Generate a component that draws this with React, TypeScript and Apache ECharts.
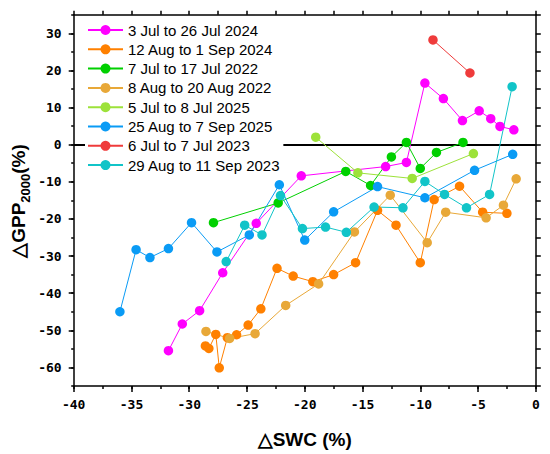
import React, { useEffect, useRef } from "react";
import * as echarts from "echarts";

const seriesNames = [
  "3 Jul to 26 Jul 2024",
  "12 Aug to 1 Sep 2024",
  "7 Jul to 17 Jul 2022",
  "8 Aug to 20 Aug 2022",
  "5 Jul to 8 Jul 2025",
  "25 Aug to 7 Sep 2025",
  "6 Jul to 7 Jul 2023",
  "29 Aug to 11 Sep 2023",
];

const seriesColors = ["#ff00ff", "#ff8000", "#00d000", "#e8a838", "#9de23a", "#0a9bf5", "#ef3b3b", "#11c4c8"];

// [ΔSWC (%), ΔGPP2000 (%)]
const jul2024 = [
  [-31.8, -55.5], [-30.6, -48.3], [-29.1, -44.7], [-27.1, -34.5], [-24.2, -21.2], [-20.3, -8.4],
  [-13.0, -5.9], [-11.2, -4.8], [-9.6, 16.6], [-8.0, 12.4], [-6.35, 6.5], [-4.9, 9.1],
  [-3.9, 7.0], [-3.1, 4.9], [-1.9, 4.0],
];
const aug2024 = [
  [-28.6, -54.2], [-28.3, -54.9], [-27.7, -51.1], [-27.4, -60.1], [-26.7, -52.0], [-25.9, -51.2],
  [-24.9, -48.6], [-23.8, -44.2], [-22.4, -33.3], [-21.0, -35.4], [-19.3, -36.9], [-17.5, -35.0],
  [-15.6, -31.8], [-13.7, -17.7], [-12.1, -21.7], [-10.0, -31.8], [-8.8, -14.8], [-6.6, -11.2],
  [-4.6, -18.2], [-2.5, -18.5],
];
const jul2022 = [
  [-27.9, -21.0], [-22.3, -15.7], [-16.45, -7.2], [-14.3, -11.0], [-12.5, -3.3], [-11.2, 0.6],
  [-10.0, -6.4], [-8.6, -2.1], [-6.3, 0.6],
];
const aug2022 = [
  [-28.55, -50.3], [-26.5, -52.2], [-24.3, -50.9], [-21.65, -43.3], [-18.8, -37.5], [-15.7, -23.5],
  [-12.6, -13.6], [-9.4, -26.4], [-7.8, -18.2], [-4.3, -19.7], [-2.8, -16.3], [-1.7, -9.2],
];
const jul2025 = [[-19.05, 2.0], [-15.4, -7.6], [-10.7, -9.1], [-5.4, -2.4]];
const aug2025 = [
  [-36.0, -45.0], [-34.6, -28.3], [-33.4, -30.4], [-31.8, -28.0], [-29.8, -21.0], [-27.6, -28.9],
  [-24.8, -24.3], [-22.2, -10.8], [-20.0, -25.7], [-17.5, -18.1], [-13.7, -11.3], [-9.6, -14.3],
  [-5.3, -6.9], [-2.0, -2.6],
];
const jul2023 = [[-8.9, 28.2], [-5.7, 19.3]];
const aug2023 = [
  [-26.8, -31.5], [-25.2, -21.7], [-23.7, -24.3], [-22.1, -13.7], [-20.2, -22.6], [-18.2, -22.2],
  [-16.4, -23.6], [-14.0, -16.8], [-11.5, -17.0], [-9.6, -9.9], [-7.9, -13.4], [-6.0, -17.0],
  [-4.0, -13.4], [-2.05, 15.6],
];

const seriesData = [jul2024, aug2024, jul2022, aug2022, jul2025, aug2025, jul2023, aug2023];

const xMin = -40;
const xMax = 0;
const yMin = -65;
const yMax = 35;
const zeroLine = 0;

const tickFont = { fontFamily: "DejaVu Sans Mono", fontWeight: "bold" as const, fontSize: 13, color: "#000" };

export default function App() {
  const ref = useRef<HTMLDivElement>(null);
  useEffect(() => {
    if (!ref.current) return;
    const chart = echarts.init(ref.current, undefined, { renderer: "svg" });
    const black = { color: "#000", width: 1.5 };
    const option: any = {
      animation: false,
      backgroundColor: "#fff",
      grid: { left: 73.7, right: 14.2, top: 14.7, bottom: 66.5, containLabel: false },
      legend: {
        z: 10,
        left: 85,
        top: 17.5,
        orient: "vertical",
        padding: [5, 3, 5, 2],
        backgroundColor: "#fff",
        itemWidth: 35,
        itemHeight: 12.5,
        itemGap: 4.3,
        textStyle: { fontFamily: "Liberation Sans", fontSize: 15, color: "#000" },
        data: seriesNames,
      },
      xAxis: [
        {
          type: "value", position: "bottom", min: xMin, max: xMax, interval: 5,
          axisLine: { show: true, onZero: false, lineStyle: black },
          axisTick: { show: true, inside: false, length: 6, lineStyle: black },
          axisLabel: { ...tickFont, margin: 12 },
          splitLine: { show: false },
          name: "△SWC (%)", nameLocation: "middle", nameGap: 44,
          nameTextStyle: { fontFamily: "Liberation Sans", fontWeight: "bold", fontSize: 19, color: "#000" },
        },
        {
          type: "value", position: "bottom", min: xMin, max: xMax, interval: 2.5,
          axisLine: { show: false, onZero: false },
          axisTick: { show: true, inside: false, length: 3, lineStyle: black },
          axisLabel: { show: false },
          splitLine: { show: false },
        },
        {
          type: "value", position: "top", min: xMin, max: xMax, interval: 2.5,
          axisLine: { show: true, onZero: false, lineStyle: black },
          axisTick: { show: true, inside: false, length: 4, lineStyle: black },
          axisLabel: { show: false },
          splitLine: { show: false },
        },
      ],
      yAxis: [
        {
          type: "value", position: "left", min: yMin, max: yMax, splitNumber: 10,
          axisLine: { show: true, onZero: false, lineStyle: black },
          axisTick: { show: true, inside: false, length: 5, lineStyle: black },
          axisLabel: { ...tickFont, margin: 12, showMinLabel: false, showMaxLabel: false },
          splitLine: { show: false },
        },
        {
          type: "value", position: "left", min: yMin, max: yMax, interval: 5,
          axisLine: { show: false, onZero: false },
          axisTick: { show: true, inside: false, length: 2.5, lineStyle: black },
          axisLabel: { show: false },
          splitLine: { show: false },
        },
        {
          type: "value", position: "right", min: yMin, max: yMax, interval: 5,
          axisLine: { show: true, onZero: false, lineStyle: black },
          axisTick: { show: true, inside: false, length: 5, lineStyle: black },
          axisLabel: { show: false },
          splitLine: { show: false },
        },
      ],
      graphic: [
        {
          type: "text",
          x: 17,
          y: 201,
          rotation: Math.PI / 2,
          style: {
            text: "{a|△GPP}{b|2000}{a|(%)}",
            align: "center",
            verticalAlign: "middle",
            rich: {
              a: { fontFamily: "Liberation Sans", fontWeight: "bold", fontSize: 19, color: "#000", lineHeight: 22, verticalAlign: "bottom" },
              b: { fontFamily: "Liberation Sans", fontWeight: "bold", fontSize: 13, color: "#000", lineHeight: 22, verticalAlign: "bottom", padding: [0, 0, -4, 0] },
            },
          },
        },
      ],
      series: seriesData.map((d, i) => ({
        name: seriesNames[i],
        type: "line",
        xAxisIndex: 0,
        yAxisIndex: 0,
        data: d,
        symbol: "circle",
        symbolSize: 9.5,
        showSymbol: true,
        color: seriesColors[i],
        lineStyle: { width: 1, color: seriesColors[i] },
        itemStyle: { color: seriesColors[i], borderWidth: 0 },
        ...(i === 0
          ? {
              markLine: {
                z: 1,
                silent: true,
                symbol: "none",
                label: { show: false },
                lineStyle: { color: "#000", width: 2, type: "solid" },
                data: [{ yAxis: zeroLine }],
              },
            }
          : {}),
      })),
    };
    chart.setOption(option);
    return () => chart.dispose();
  }, []);
  return <div ref={ref} style={{ position: "fixed", left: 0, top: 0, width: 550, height: 454 }} />;
}
